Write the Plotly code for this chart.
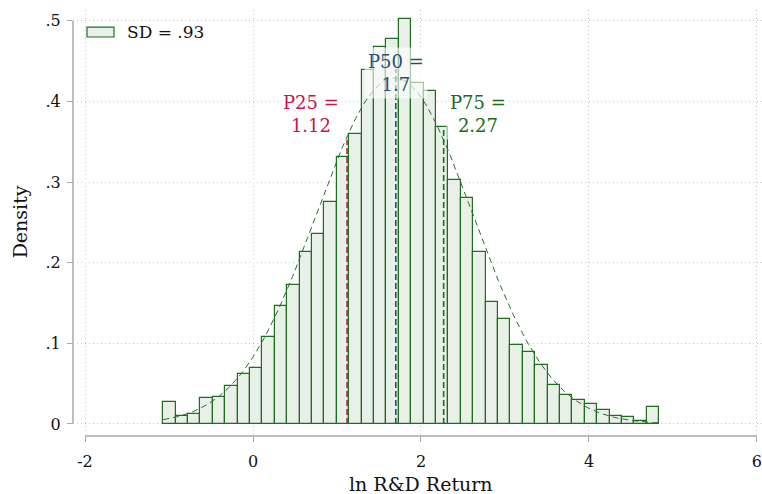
import numpy as np
import plotly.graph_objects as go

# ---- data ----
bin_start = -1.068
bin_width = 0.1476
densities = [0.0268, 0.0094, 0.0124, 0.0322, 0.0335, 0.0466, 0.0620, 0.0694, 0.1078, 0.1457,
             0.1718, 0.2131, 0.2358, 0.2751, 0.3316, 0.3601, 0.4387, 0.4680, 0.4770, 0.5020,
             0.4225, 0.4130, 0.3688, 0.3024, 0.2808, 0.2131, 0.1512, 0.1301, 0.0974, 0.0892,
             0.0726, 0.0487, 0.0355, 0.0301, 0.0252, 0.0177, 0.0103, 0.0082, 0.0032, 0.0206]
normal_mean = 1.686
normal_sd = 0.93
pct_labels = ["P25", "P50", "P75"]
pct_values = [1.12, 1.7, 2.27]
pct_line_tops = [0.352, 0.44, 0.369]
pct_colors = ["#c8164a", "#2b4d72", "#1b6b1b"]
pct_label_x = [0.69, 1.70, 2.68]
pct_label_y = [0.3845, 0.4353, 0.3845]
legend_label = "SD = .93"
x_ticks = [-2, 0, 2, 4, 6]
x_ticktext = ["-2", "0", "2", "4", "6"]
y_ticks = [0, 0.1, 0.2, 0.3, 0.4, 0.5]
y_ticktext = ["0", ".1", ".2", ".3", ".4", ".5"]
x_title = "ln R&D Return"
y_title = "Density"

FONT = "DejaVu Serif"
BAR_LINE = "#1f6e1f"
BAR_FILL = "#e8f0e8"
AXIS_COL = "#a8a8a8"
GRID_COL = "#c8c8c8"

centers = [bin_start + bin_width * (i + 0.5) for i in range(len(densities))]
x_end = bin_start + bin_width * len(densities)
xs = np.linspace(bin_start, x_end, 300)
ys = np.exp(-0.5 * ((xs - normal_mean) / normal_sd) ** 2) / (normal_sd * np.sqrt(2 * np.pi))

fig = go.Figure()
fig.add_trace(go.Bar(x=centers, y=densities, width=bin_width,
                     marker=dict(color=BAR_FILL, line=dict(color=BAR_LINE, width=1.2)),
                     showlegend=False))
fig.add_trace(go.Scatter(x=xs, y=ys, mode="lines",
                         line=dict(color="#2a6e2a", width=1, dash="6px,4px"),
                         showlegend=False, hoverinfo="skip"))
for v, top, c in zip(pct_values, pct_line_tops, pct_colors):
    fig.add_trace(go.Scatter(x=[v, v], y=[0, top], mode="lines",
                             line=dict(color=c, width=1.6, dash="6px,3px"),
                             showlegend=False, hoverinfo="skip"))

for lab, v, c, ax, ay in zip(pct_labels, pct_values, pct_colors, pct_label_x, pct_label_y):
    fig.add_annotation(x=ax, y=ay, xref="x", yref="y", showarrow=False,
                       text=f"{lab} =<br>{v:g}", font=dict(family=FONT, size=18, color=c),
                       bgcolor="rgba(255,255,255,0.6)", borderpad=3,
                       xanchor="center", yanchor="middle", align="center")

# legend (manual)
fig.add_shape(type="rect", xref="paper", yref="paper", x0=0.0203, x1=0.0595, y0=0.9366, y1=0.960,
              fillcolor=BAR_FILL, line=dict(color=BAR_LINE, width=1.2))
fig.add_annotation(x=0.0755, y=0.948, xref="paper", yref="paper", showarrow=False,
                   text=legend_label, xanchor="left", yanchor="middle",
                   font=dict(family=FONT, size=17, color="#111111"))

# axis titles
fig.add_annotation(x=(-2 + 6) / 2, y=-0.113, xref="x", yref="paper", showarrow=False,
                   text=x_title, xanchor="center", yanchor="middle",
                   font=dict(family=FONT, size=19, color="#111111"))
fig.add_annotation(x=-0.0769, y=0.25, xref="paper", yref="y", showarrow=False,
                   text=y_title, textangle=-90, xanchor="center", yanchor="middle",
                   font=dict(family=FONT, size=19, color="#111111"))

# axis lines (Stata style, spanning tick range only)
fig.add_shape(type="line", xref="x", yref="paper", x0=-2, x1=6, y0=0, y1=0,
              line=dict(color=AXIS_COL, width=1.5))
fig.add_shape(type="line", xref="paper", yref="y", x0=0, x1=0, y0=0, y1=0.5,
              line=dict(color=AXIS_COL, width=1.5))

fig.update_layout(
    width=762, height=494,
    margin=dict(l=73, r=0, t=10, b=58, autoexpand=False),
    plot_bgcolor="white", paper_bgcolor="white",
    bargap=0,
    font=dict(family=FONT, color="#111111"),
    xaxis=dict(range=[-2.143, 6.06], tickvals=x_ticks, ticktext=x_ticktext,
               ticks="outside", ticklen=5, ticklabelstandoff=6, ticklabeloverflow="allow",
               tickcolor=AXIS_COL, showline=False, zeroline=False, automargin=False,
               showgrid=True, gridcolor=GRID_COL, griddash="1px,3px", gridwidth=1,
               tickfont=dict(size=16, family=FONT)),
    yaxis=dict(range=[-0.0149, 0.5133], tickvals=y_ticks, ticktext=y_ticktext,
               ticks="outside", ticklen=5, tickcolor=AXIS_COL, showline=False, zeroline=False,
               automargin=False, ticklabelstandoff=3,
               showgrid=True, gridcolor=GRID_COL, griddash="1px,3px", gridwidth=1,
               tickfont=dict(size=16, family=FONT)),
)

fig.write_html("out.html", config={"displayModeBar": False},
               post_script="document.body.style.margin='0';document.body.style.overflow='hidden';")
